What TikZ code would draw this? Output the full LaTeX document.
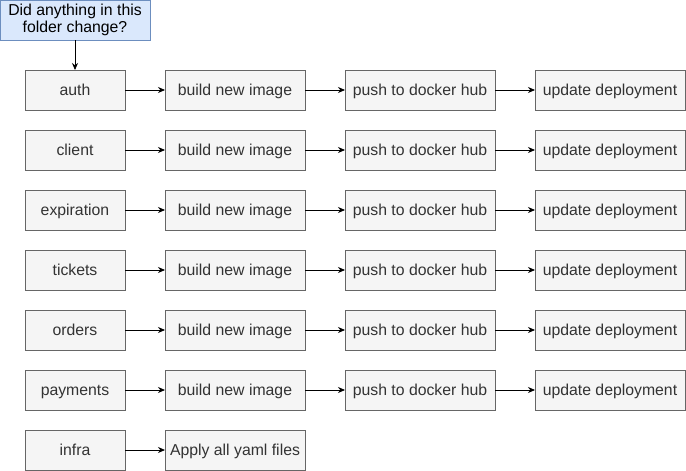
\documentclass[tikz,border=0pt]{standalone}
\usepackage{fontspec}
\setmainfont{Liberation Sans}
\usetikzlibrary{arrows.meta, positioning}

\definecolor{boxfill}{HTML}{F5F5F5}
\definecolor{boxline}{HTML}{666666}
\definecolor{boxtext}{HTML}{333333}
\definecolor{askfill}{HTML}{DAE8FC}
\definecolor{askline}{HTML}{6C8EBF}

\tikzset{
    stepbox/.style={draw=boxline, fill=boxfill, text=boxtext, line width=0.8pt,
        minimum height=40pt, inner sep=2pt, outer sep=0pt,
        text height=12.5pt, text depth=2.5pt},
    question/.style={draw=askline, fill=askfill, line width=0.8pt, align=center,
        minimum width=150pt, minimum height=40pt, inner sep=1pt, outer sep=0pt},
    flow/.style={-{Stealth[length=7pt,width=6pt]}, line width=0.8pt}
}

\begin{document}
\begin{tikzpicture}[x=1pt, y=-1pt, font=\fontsize{15.8}{17.5}\selectfont, node distance=40pt]
\useasboundingbox (0,0) rectangle (686,471);

% question on top
\node[question] (ask) at (75,20) {Did anything in this\\folder change?};

% one row per service
\foreach \name [count=\i] in {auth,client,expiration,tickets,orders,payments} {
    \pgfmathsetmacro\y{30+60*\i}
    \node[stepbox, minimum width=100pt] (svc\i) at (75,\y) {\name};
    \node[stepbox, minimum width=140pt, right=of svc\i] (build\i) {build new image};
    \node[stepbox, minimum width=150pt, right=of build\i] (push\i) {push to docker hub};
    \node[stepbox, minimum width=150pt, right=of push\i] (deploy\i) {update deployment};
    \draw[flow] (svc\i) -- (build\i);
    \draw[flow] (build\i) -- (push\i);
    \draw[flow] (push\i) -- (deploy\i);
}

% infra row
\node[stepbox, minimum width=100pt] (infra) at (75,450) {infra};
\node[stepbox, minimum width=140pt, right=of infra] (apply) {Apply all yaml files};
\draw[flow] (infra) -- (apply);

\draw[flow] (ask) -- (svc1);
\end{tikzpicture}
\end{document}
